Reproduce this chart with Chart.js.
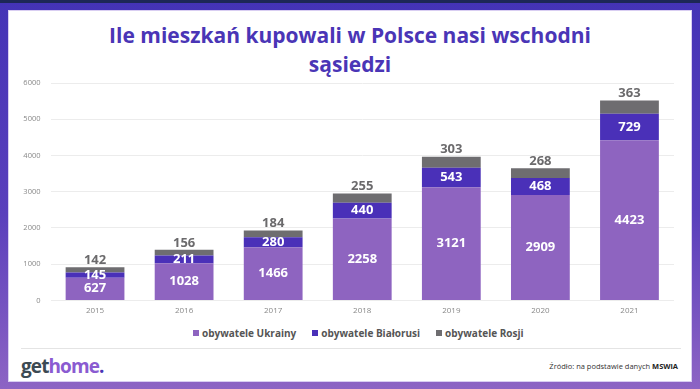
<!DOCTYPE html>
<html>
<head>
<meta charset="utf-8">
<script src="https://cdn.jsdelivr.net/npm/chart.js@4"></script>
<style>
  html, body { margin: 0; padding: 0; }
  body {
    width: 700px; height: 389px; position: relative; overflow: hidden;
    background: linear-gradient(180deg, #4433b6 0%, #5a3fbc 55%, #8d64c4 100%);
    font-family: "Open Sans", sans-serif;
  }
  #topbar { position: absolute; left: 0; top: 0; width: 700px; height: 3px; background: #1d2756; }
  #card {
    position: absolute; left: 8px; top: 10px; width: 682px; height: 370px;
    background: #fff; border: 1px solid #d9cef2;
  }
  #title {
    position: absolute; left: 0; top: 21px; width: 700px; text-align: center;
    color: #4a35b6; font-weight: 700; font-size: 21px; line-height: 29px;
  }
  #wrap { position: absolute; left: 0; top: 0; width: 700px; height: 324px; }
  #legend {
    position: absolute; left: 193px; top: 325px; height: 16px;
    display: flex; align-items: center; white-space: nowrap;
    font-size: 10px; font-weight: 700; color: #555;
  }
  #legend .item { display: flex; align-items: center; margin-right: 16px; }
  #legend .box { width: 6px; height: 6px; margin-right: 3px; }
  #sep { position: absolute; left: 21px; top: 348px; width: 660px; height: 1px; background: #e4e4e4; }
  #logo {
    position: absolute; left: 21px; top: 353px; font-size: 19px; font-weight: 700;
    color: #3c4a53; letter-spacing: -0.9px;
  }
  #logo .h { color: #8a5bd1; }
  #logo .d { color: #4a35b6; }
  #src {
    position: absolute; right: 22px; top: 361px; font-size: 7.5px; color: #333;
  }
  #src b { color: #222; }
</style>
</head>
<body>
<div id="topbar"></div>
<div id="card"></div>
<div id="title">Ile mieszkań kupowali w Polsce nasi wschodni<br>sąsiedzi</div>
<div id="wrap"><canvas id="chart" width="700" height="324"></canvas></div>
<div id="legend"></div>
<div id="sep"></div>
<div id="logo">get<span class="h">home</span><span class="d">.</span></div>
<div id="src">Źródło: na podstawie danych <b>MSWiA</b></div>
<script>
const years = ['2015', '2016', '2017', '2018', '2019', '2020', '2021'];
const ukraina = [627, 1028, 1466, 2258, 3121, 2909, 4423];
const bialorus = [145, 211, 280, 440, 543, 468, 729];
const rosja = [142, 156, 184, 255, 303, 268, 363];
const seriesNames = ['obywatele Ukrainy', 'obywatele Białorusi', 'obywatele Rosji'];
const seriesColors = ['#8e64c0', '#4a30b8', '#6e6d70'];

const valueLabels = {
    id: 'valueLabels',
    afterDatasetsDraw(chart) {
        const ctx = chart.ctx;
        ctx.save();
        ctx.textAlign = 'center';
        ctx.textBaseline = 'middle';
        chart.data.datasets.forEach((ds, i) => {
            const meta = chart.getDatasetMeta(i);
            meta.data.forEach((bar, j) => {
                ctx.font = '700 13px "Open Sans"';
                if (i < 2) {
                    ctx.fillStyle = '#ffffff';
                    ctx.fillText(ds.data[j], bar.x, (bar.y + bar.base) / 2);
                } else {
                    ctx.fillStyle = '#6b6a6c';
                    ctx.fillText(ds.data[j], bar.x, bar.y - 7);
                }
            });
        });
        ctx.restore();
    }
};

const chart = new Chart(document.getElementById('chart'), {
    type: 'bar',
    data: {
        labels: years,
        datasets: [
            { label: seriesNames[0], data: ukraina, backgroundColor: seriesColors[0] },
            { label: seriesNames[1], data: bialorus, backgroundColor: seriesColors[1] },
            { label: seriesNames[2], data: rosja, backgroundColor: seriesColors[2] },
        ],
    },
    options: {
        responsive: false,
        animation: false,
        categoryPercentage: 1,
        barPercentage: 0.66,
        layout: {
            padding: { top: 83, right: 26, bottom: 2, left: 0 }
        },
        plugins: {
            legend: { display: false },
            tooltip: { enabled: false }
        },
        scales: {
            x: {
                stacked: true,
                grid: { display: false, drawTicks: false },
                border: { display: false },
                ticks: { color: '#888', font: { family: 'Open Sans', size: 8 }, padding: 6 }
            },
            y: {
                stacked: true,
                min: 0,
                max: 6000,
                afterFit(scale) { scale.width = 50.5; },
                grid: { color: '#ececec', drawTicks: false },
                border: { display: false },
                ticks: {
                    stepSize: 1000, color: '#888', padding: 10,
                    font: { family: 'Open Sans', size: 7.5 },
                    callback: (v) => String(v)
                }
            }
        }
    },
    plugins: [valueLabels]
});

// legenda w HTML, z tych samych nazw i kolorów co zestawy danych
const legend = document.getElementById('legend');
chart.data.datasets.forEach((ds) => {
    const item = document.createElement('span');
    item.className = 'item';
    const box = document.createElement('span');
    box.className = 'box';
    box.style.background = ds.backgroundColor;
    item.appendChild(box);
    item.appendChild(document.createTextNode(ds.label));
    legend.appendChild(item);
});
</script>
</body>
</html>
